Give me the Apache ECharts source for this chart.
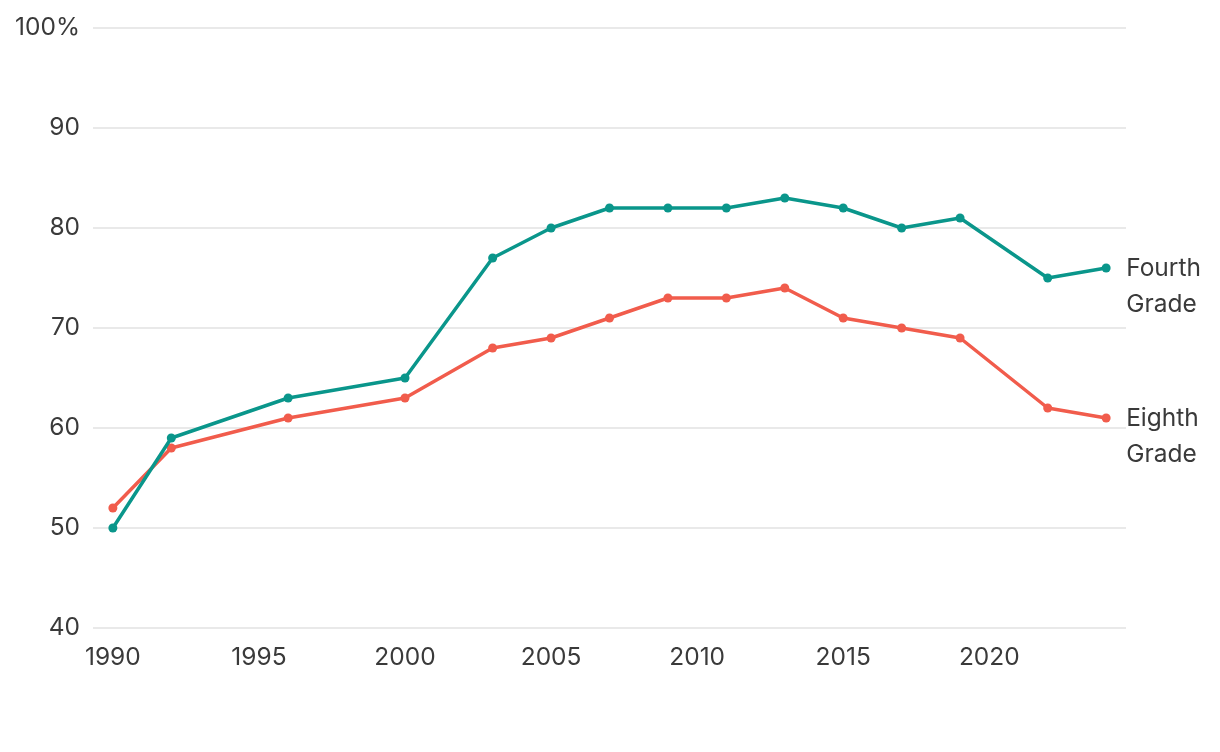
<!DOCTYPE html>
<html><head><meta charset="utf-8">
<script src="https://cdn.jsdelivr.net/npm/echarts@6/dist/echarts.min.js"></script>
<style>html,body{margin:0;padding:0;background:#fff}#c{width:1220px;height:752px}</style>
</head><body><div id="c"></div>
<script>
const years = [1990, 1992, 1996, 2000, 2003, 2005, 2007, 2009, 2011, 2013, 2015, 2017, 2019, 2022, 2024];
const fourthGrade = [50, 59, 63, 65, 77, 80, 82, 82, 82, 83, 82, 80, 81, 75, 76];
const eighthGrade = [52, 58, 61, 63, 68, 69, 71, 73, 73, 74, 71, 70, 69, 62, 61];
const xTicks = [1990, 1995, 2000, 2005, 2010, 2015, 2020];
const seriesNames = ['Fourth\nGrade', 'Eighth\nGrade'];
const colors = ['#0a968b', '#f15c4c'];
const FONT = 'Inter';
const chart = echarts.init(document.getElementById('c'));
function mk(name, vals, color) {
  return {
    name: name, type: 'line', data: years.map((y, i) => [y, vals[i]]),
    symbol: 'circle', symbolSize: 9, color: color,
    lineStyle: {width: 3.5, color: color}, itemStyle: {color: color},
    z: name.startsWith('Fourth') ? 3 : 2,
    endLabel: {show: true, formatter: name, color: '#3a3a3a', fontSize: 24.5, fontFamily: FONT,
      lineHeight: 36, distance: 20, offset: [0, 19]},
    emphasis: {disabled: true}, animation: false
  };
}
chart.setOption({
  animation: false,
  grid: {left: 93, right: 94, top: 28, bottom: 124, containLabel: false},
  xAxis: {type: 'value', min: 1989.32, max: 2024.68, splitLine: {show: false},
    axisLine: {show: false}, axisTick: {show: false},
    axisLabel: {customValues: xTicks, color: '#3a3a3a', fontSize: 24.5, fontFamily: FONT, margin: 17,
      formatter: v => String(v)}},
  yAxis: {type: 'value', min: 40, max: 100, interval: 10,
    axisLine: {show: false}, axisTick: {show: false},
    splitLine: {lineStyle: {color: '#e2e2e2', width: 1.5}},
    axisLabel: {color: '#3a3a3a', fontSize: 24.5, fontFamily: FONT, margin: 13,
      formatter: v => v === 100 ? '100%' : String(v)}},
  series: [mk(seriesNames[0], fourthGrade, colors[0]), mk(seriesNames[1], eighthGrade, colors[1])]
});
</script></body></html>
